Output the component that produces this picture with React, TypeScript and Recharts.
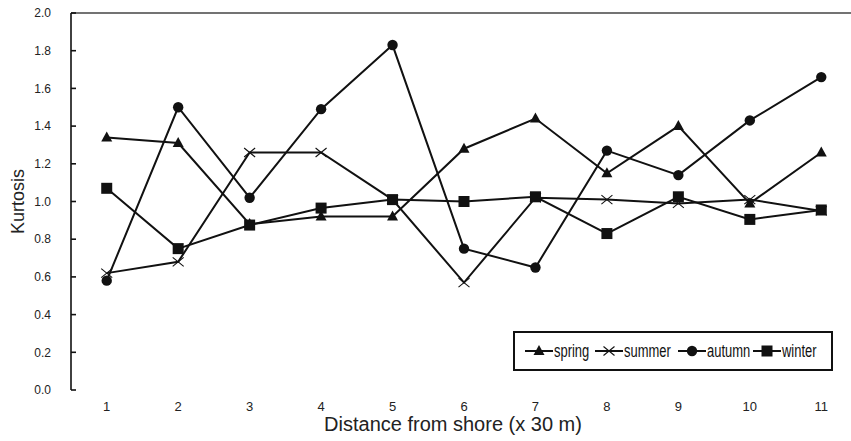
import React from "react";
import { LineChart, Line, XAxis, YAxis, ReferenceLine } from "recharts";

const distances = [1, 2, 3, 4, 5, 6, 7, 8, 9, 10, 11];
const spring = [1.34, 1.31, 0.88, 0.92, 0.92, 1.28, 1.44, 1.15, 1.4, 0.99, 1.26];
const summer = [0.62, 0.68, 1.26, 1.26, 1.01, 0.57, 1.02, 1.01, 0.99, 1.01, 0.95];
const autumn = [0.58, 1.5, 1.02, 1.49, 1.83, 0.75, 0.65, 1.27, 1.14, 1.43, 1.66];
const winter = [1.07, 0.75, 0.875, 0.965, 1.01, 1.0, 1.025, 0.83, 1.025, 0.905, 0.955];
const yTicks = [0, 0.2, 0.4, 0.6, 0.8, 1.0, 1.2, 1.4, 1.6, 1.8, 2.0];
const boundaryTicks = [1.5, 2.5, 3.5, 4.5, 5.5, 6.5, 7.5, 8.5, 9.5, 10.5];

const data = distances.map((x, i) => ({
  x,
  spring: spring[i],
  summer: summer[i],
  autumn: autumn[i],
  winter: winter[i],
}));

const INK = "#111";
const FONT = "'Liberation Sans', Arial, sans-serif";
const tickFont = { fontFamily: FONT, fill: "#222" };

type Pt = { cx: number; cy: number };

const Tri = ({ cx, cy }: Pt) => (
  <path d={`M${cx} ${cy - 6}L${cx + 5.5} ${cy + 4}L${cx - 5.5} ${cy + 4}Z`} fill={INK} />
);
const Cross = ({ cx, cy }: Pt) => (
  <path
    d={`M${cx - 5.5} ${cy - 4.5}L${cx + 5.5} ${cy + 4.5}M${cx + 5.5} ${cy - 4.5}L${cx - 5.5} ${cy + 4.5}`}
    stroke={INK}
    strokeWidth={1.1}
    fill="none"
  />
);
const Circ = ({ cx, cy }: Pt) => <circle cx={cx} cy={cy} r={5.2} fill={INK} />;
const Sq = ({ cx, cy }: Pt) => <rect x={cx - 5.5} y={cy - 5.5} width={11} height={11} fill={INK} />;

// slot = width of the legend entry (icon + condensed label)
const series = [
  { key: "spring", Shape: Tri, slot: 70 },
  { key: "summer", Shape: Cross, slot: 83 },
  { key: "autumn", Shape: Circ, slot: 75 },
  { key: "winter", Shape: Sq, slot: 70 },
];

function LegendBox() {
  return (
    <div
      style={{
        position: "absolute",
        left: 513,
        top: 331,
        width: 320,
        height: 40,
        border: `2px solid ${INK}`,
        boxSizing: "border-box",
        display: "flex",
        alignItems: "center",
        paddingLeft: 10,
        fontFamily: FONT,
        fontSize: 17.5,
        color: INK,
        whiteSpace: "nowrap",
      }}
    >
      {series.map(({ key, Shape, slot }) => (
        <div key={key} style={{ display: "flex", alignItems: "center", width: slot, flex: "none" }}>
          <svg width={28} height={14} style={{ flex: "none" }}>
            <line x1={0} y1={7} x2={28} y2={7} stroke={INK} strokeWidth={2} />
            <Shape cx={14} cy={7} />
          </svg>
          <span
            style={{
              display: "inline-block",
              marginLeft: 1,
              transform: "scaleX(0.74)",
              transformOrigin: "left center",
            }}
          >
            {key}
          </span>
        </div>
      ))}
    </div>
  );
}

export default function App() {
  return (
    <div
      style={{
        position: "fixed",
        left: 0,
        top: 0,
        width: 851,
        height: 441,
        overflow: "hidden",
        background: "#fff",
      }}
    >
      <LineChart width={870} height={441} data={data} margin={{ top: 13, right: 13, left: 0, bottom: 0 }}>
        <XAxis
          dataKey="x"
          type="number"
          domain={[0.5, 11.5]}
          ticks={boundaryTicks}
          tick={false}
          tickSize={-5}
          height={0}
          stroke={INK}
          strokeWidth={1.6}
        />
        <XAxis
          xAxisId="labels"
          dataKey="x"
          type="number"
          domain={[0.5, 11.5]}
          ticks={distances}
          axisLine={false}
          tickLine={false}
          tickSize={6}
          tickMargin={6}
          height={51}
          tick={{ ...tickFont, fontSize: 13 }}
          label={{
            content: ({ viewBox }: any) => (
              <text
                x={viewBox.x + viewBox.width / 2 - 11}
                y={viewBox.y + 41}
                textAnchor="middle"
                fontFamily={FONT}
                fontSize={20}
                fill="#222"
              >
                Distance from shore (x 30 m)
              </text>
            ),
          }}
        />
        <YAxis
          type="number"
          domain={[0, 2]}
          ticks={yTicks}
          width={71}
          tickSize={-5}
          tickMargin={25}
          stroke={INK}
          strokeWidth={1.6}
          tick={{ ...tickFont, fontSize: 12 }}
          tickFormatter={(v: number) => v.toFixed(1)}
          label={{
            content: ({ viewBox }: any) => {
              const cx = viewBox.x + 18;
              const cy = viewBox.y + viewBox.height / 2;
              return (
                <text
                  x={cx}
                  y={cy}
                  transform={`rotate(-90 ${cx} ${cy})`}
                  textAnchor="middle"
                  dominantBaseline="central"
                  fontFamily={FONT}
                  fontSize={18}
                  fill="#222"
                >
                  Kurtosis
                </text>
              );
            },
          }}
        />
        <ReferenceLine y={2} stroke="#444" strokeWidth={1.3} ifOverflow="extendDomain" />
        {series.map(({ key, Shape }) => (
          <Line
            key={key}
            dataKey={key}
            type="linear"
            stroke={INK}
            strokeWidth={2}
            isAnimationActive={false}
            dot={(p: any) => <Shape key={`${key}-${p.index}`} cx={p.cx} cy={p.cy} />}
            activeDot={false}
          />
        ))}
      </LineChart>
      <LegendBox />
    </div>
  );
}
